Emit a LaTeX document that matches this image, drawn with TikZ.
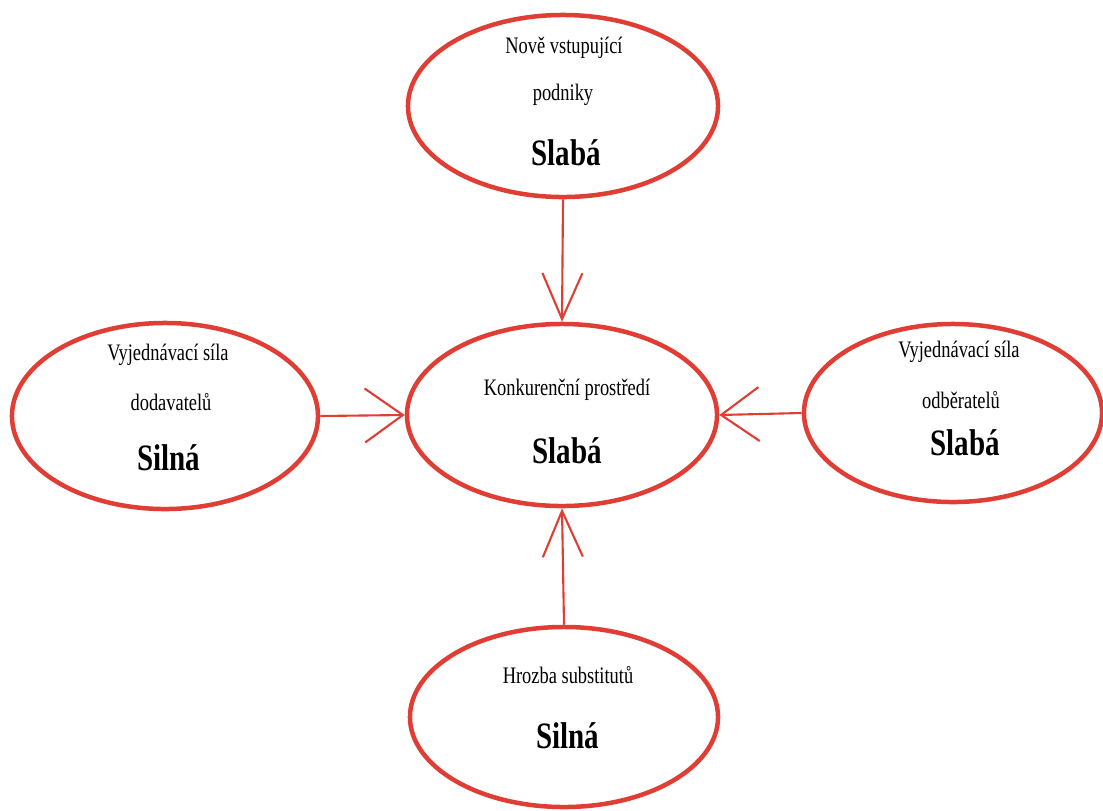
\documentclass[tikz,border=0pt]{standalone}
\usepackage{fontspec}
\setmainfont[FakeStretch=0.78]{Liberation Serif}
\usepackage{tikz}
\usetikzlibrary{arrows.meta,%
                shapes.geometric,positioning}
\definecolor{porterred}{RGB}{224,62,52}

\begin{document}
\begin{tikzpicture}[x=0.025cm,y=-0.025cm,
  force/.style={ellipse,draw=porterred,line width=3.2pt,inner sep=0pt},
  sm/.style={anchor=base,font=\fontsize{16.8}{19}\selectfont},
  big/.style={anchor=base,font=\fontsize{26.5}{29}\selectfont\bfseries},
  push/.style={draw=porterred,line width=1.5pt},
  vtip/.style={-{Straight Barb[length=1.15cm,width=1cm]}},
  htip/.style={-{Straight Barb[length=0.95cm,width=1.35cm]}}]
\useasboundingbox (0,0) rectangle (1103,810);
\node[force,minimum width=7.75cm,minimum height=4.55cm] (nove) at (563,106) {};
\node[force,minimum width=7.75cm,minimum height=4.55cm] (centre) at (562,415) {};
\node[force,minimum width=7.65cm,minimum height=4.65cm] (dodav) at (165,416) {};
\node[force,minimum width=7.45cm,minimum height=4.45cm] (odber) at (953,413) {};
\node[force,minimum width=7.7cm,minimum height=4.5cm] (subst) at (564,717) {};
\node[sm] (nove1) at (564,53) {Nově vstupující};
\node[sm] (nove2) at (563,100) {podniky};
\node[big] (nove3) at (566,165) {Slabá};
\node[sm] (centre1) at (567,395) {Konkurenční prostředí};
\node[big] (centre2) at (567,463) {Slabá};
\node[sm] (dodav1) at (168,360) {Vyjednávací síla};
\node[sm] (dodav2) at (171,410) {dodavatelů};
\node[big] (dodav3) at (169,470) {Silná};
\node[sm] (odber1) at (959,357) {Vyjednávací síla};
\node[sm] (odber2) at (961,408) {odběratelů};
\node[big] (odber3) at (965,455) {Slabá};
\node[sm] (subst1) at (568,683) {Hrozba substitutů};
\node[big] (subst2) at (568,748) {Silná};
\draw[push,vtip] (nove.south) -- (centre.north);
\draw[push,vtip] (subst.north) -- (centre.south);
\draw[push,htip] (dodav.east) -- (centre.west);
\draw[push,htip] (odber.west) -- (centre.east);
\end{tikzpicture}
\end{document}
